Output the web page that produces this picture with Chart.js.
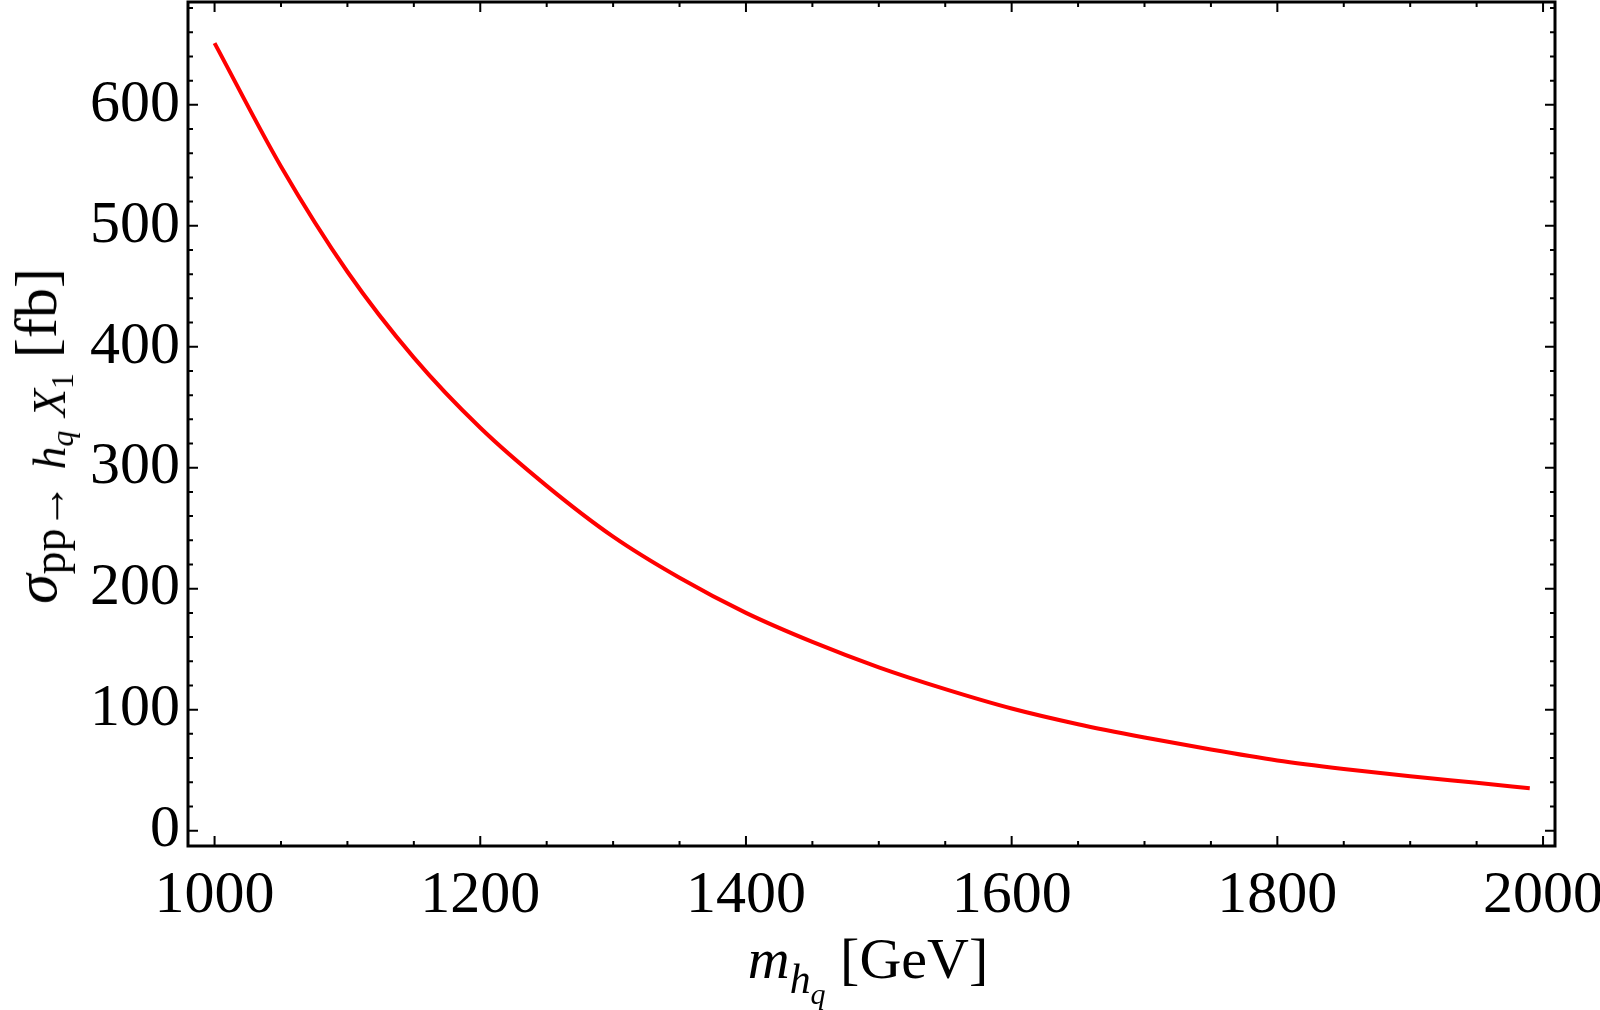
<!DOCTYPE html>
<html>
<head>
<meta charset="utf-8">
<script src="https://cdn.jsdelivr.net/npm/chart.js@4.4.1/dist/chart.umd.min.js"></script>
<style>
  html, body { margin: 0; padding: 0; background: #fff; }
  #wrap { position: relative; width: 1600px; height: 1010px; }
  #chart { position: absolute; left: 0; top: 0; }
  .axis-title {
    position: absolute;
    font-family: "Liberation Serif", "DejaVu Serif", serif;
    font-size: 58px;
    color: #000;
    white-space: nowrap;
    line-height: 1;
    transform: translate(-50%, -50%);
  }
  .axis-title sub { font-size: 0.72em; vertical-align: -0.35em; line-height: 0; }
  #ytitle { font-size: 60px; transform: translate(-50%, -50%) rotate(-90deg); }
  #ytitle > sub { font-size: 0.76em; vertical-align: -0.2em; }
  #ytitle sub sub { font-size: 0.7em; vertical-align: -0.25em; }
  .sp { display: inline-block; width: 0.3em; }
</style>
</head>
<body>
<div id="wrap">
  <canvas id="chart" width="1600" height="1010"></canvas>
  <div class="axis-title" id="xtitle" style="left:868px; top:962px;"><i>m</i><sub><i>h<sub>q</sub></i></sub> [GeV]</div>
  <div class="axis-title" id="ytitle" style="left:36px; top:436px;"><i>σ</i><sub>pp→<span class="sp"></span><i>h<sub>q</sub></i><span class="sp"></span><i>X</i><sub>1</sub></sub> [fb]</div>
</div>
<script>
// Data
const masses = [1000, 1050, 1100, 1150, 1200, 1250, 1300, 1350, 1400, 1450, 1500,
                1550, 1600, 1650, 1700, 1750, 1800, 1850, 1900, 1950, 1990];
const sigma = [651, 549, 462, 391, 333, 285, 243, 209, 180, 156, 135,
               117, 101, 88, 77, 67, 58, 51, 45, 39.5, 35];

const xTicks = [1000, 1200, 1400, 1600, 1800, 2000];
const yTicks = [0, 100, 200, 300, 400, 500, 600];
const xMinorStep = 50;
const yMinorStep = 20;

// Frame with inward major/minor ticks on all four sides
const framePlugin = {
    id: 'frame',
    afterDraw(chart) {
        const { ctx, chartArea: a, scales } = chart;
        const xs = scales.x, ys = scales.y;
        ctx.save();
        ctx.strokeStyle = '#000';
        ctx.lineWidth = 3;
        ctx.strokeRect(a.left, a.top, a.right - a.left, a.bottom - a.top);

        ctx.lineWidth = 2;
        ctx.beginPath();
        for (let v = 1000; v <= 2000; v += xMinorStep) {
            const px = xs.getPixelForValue(v);
            const len = v % 200 === 0 ? 10 : 5;
            ctx.moveTo(px, a.bottom); ctx.lineTo(px, a.bottom - len);
            ctx.moveTo(px, a.top); ctx.lineTo(px, a.top + len);
        }
        for (let v = 0; v <= 680; v += yMinorStep) {
            const py = ys.getPixelForValue(v);
            const len = v % 100 === 0 ? 10 : 5;
            ctx.moveTo(a.left, py); ctx.lineTo(a.left + len, py);
            ctx.moveTo(a.right, py); ctx.lineTo(a.right - len, py);
        }
        ctx.stroke();
        ctx.restore();
    }
};

const tickFont = { family: '"Liberation Serif", "DejaVu Serif", serif', size: 60 };

new Chart(document.getElementById('chart'), {
    type: 'line',
    data: {
        datasets: [{
            data: masses.map((m, i) => ({ x: m, y: sigma[i] })),
            borderColor: 'rgb(255, 0, 0)',
            borderWidth: 4,
            pointRadius: 0,
            cubicInterpolationMode: 'monotone',
            fill: false
        }]
    },
    options: {
        responsive: false,
        animation: false,
        layout: { padding: { top: 2, right: 45, left: 0, bottom: 0 } },
        plugins: { legend: { display: false }, tooltip: { enabled: false } },
        scales: {
            x: {
                type: 'linear',
                min: 980,
                max: 2009,
                grid: { display: false },
                border: { display: false },
                afterBuildTicks: s => { s.ticks = xTicks.map(v => ({ value: v })); },
                afterFit: s => { s.height = 164; s.paddingLeft = 0; s.paddingRight = 0; },
                ticks: {
                    font: tickFont,
                    color: '#000',
                    padding: 6,
                    maxRotation: 0,
                    autoSkip: false,
                    callback: v => String(v)
                }
            },
            y: {
                type: 'linear',
                min: -12.7,
                max: 685,
                grid: { display: false },
                border: { display: false },
                afterBuildTicks: s => { s.ticks = yTicks.map(v => ({ value: v })); },
                afterFit: s => { s.width = 188; s.paddingTop = 0; s.paddingBottom = 0; },
                ticks: {
                    font: tickFont,
                    color: '#000',
                    padding: 0,
                    autoSkip: false,
                    callback: v => String(v)
                }
            }
        }
    },
    plugins: [framePlugin]
});
</script>
</body>
</html>
